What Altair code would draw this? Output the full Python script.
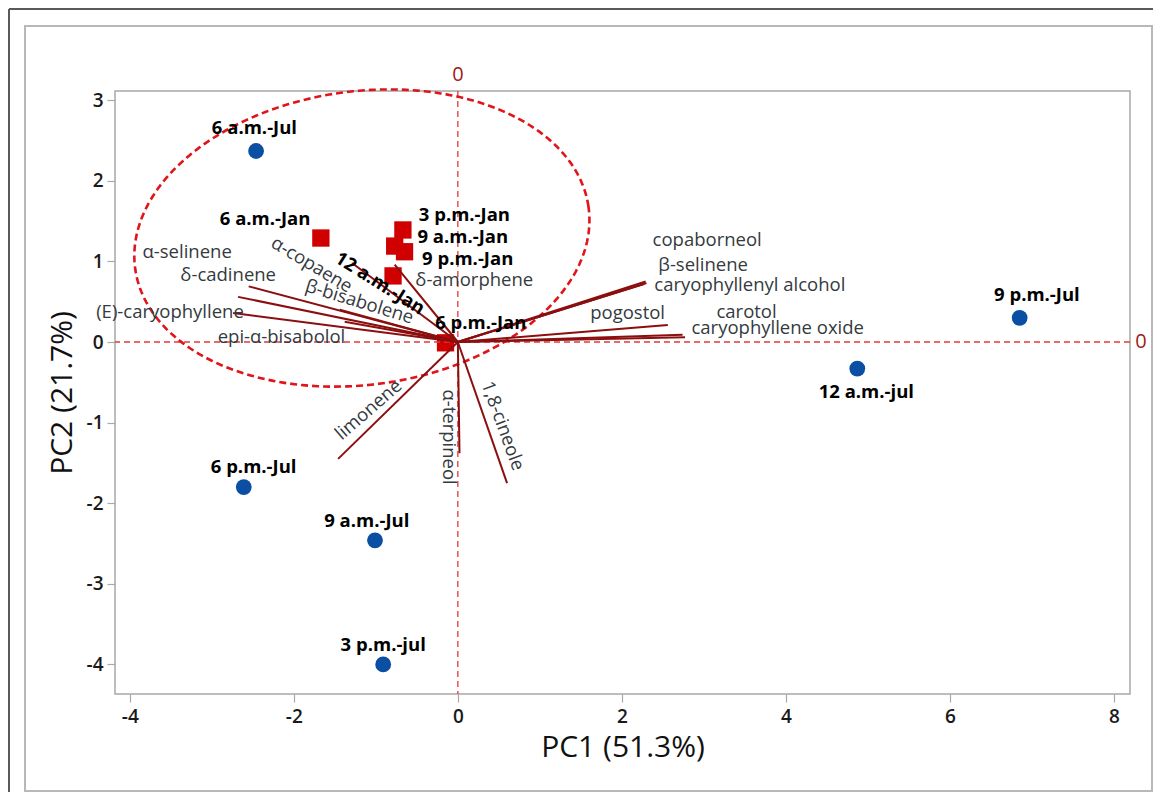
import altair as alt
import pandas as pd
import numpy as np

# ---------------- data ----------------
samples = ["6 a.m.-Jul", "6 p.m.-Jul", "9 a.m.-Jul", "3 p.m.-jul", "12 a.m.-jul", "9 p.m.-Jul",
           "6 a.m.-Jan", "3 p.m.-Jan", "9 a.m.-Jan", "9 p.m.-Jan", "12 a.m.-Jan", "6 p.m.-Jan"]
month = ["Jul"] * 6 + ["Jan"] * 6
pc1 = [-2.46, -2.61, -1.01, -0.91, 4.87, 6.85, -1.67, -0.67, -0.77, -0.65, -0.79, -0.15]
pc2 = [2.37, -1.80, -2.46, -4.00, -0.33, 0.30, 1.29, 1.39, 1.19, 1.12, 0.82, -0.01]
# label anchor (centre of text) in PC units, and text angle
sample_lab_x = [-2.48, -2.49, -1.11, -0.91, 4.98, 7.06, -2.35, 0.08, 0.06, 0.12, -0.95, 0.28]
sample_lab_y = [2.66, -1.55, -2.22, -3.76, -0.62, 0.58, 1.53, 1.57, 1.30, 1.03, 0.73, 0.24]
sample_lab_angle = [0, 0, 0, 0, 0, 0, 0, 0, 0, 0, 32, 0]

variables = ["α-selinene", "δ-cadinene", "(E)-caryophyllene", "epi-α-bisabolol", "α-copaene",
             "β-bisabolene", "δ-amorphene", "limonene", "α-terpineol", "1,8-cineole",
             "pogostol", "copaborneol", "β-selinene", "caryophyllenyl alcohol", "carotol",
             "caryophyllene oxide"]
load1 = [-2.68, -2.55, -2.74, -1.38, -1.29, -1.44, -0.77, -1.46, 0.02, 0.60,
         2.56, 2.29, 2.27, 2.30, 2.74, 2.77]
load2 = [0.56, 0.69, 0.36, 0.25, 0.98, 0.40, 0.96, -1.45, -1.38, -1.75,
         0.21, 0.75, 0.72, 0.73, 0.09, 0.06]
var_lab_x = [-3.30, -2.80, -3.51, -2.15, -1.78, -1.20, 0.20, -1.09, -0.11, 0.55,
             2.07, 3.04, 2.99, 3.56, 3.52, 3.90]
var_lab_y = [1.12, 0.83, 0.37, 0.06, 0.96, 0.50, 0.77, -0.84, -1.18, -1.04,
             0.36, 1.26, 0.96, 0.71, 0.37, 0.17]
var_lab_angle = [0, 0, 0, 0, 31, 17, 0, 319, 90, 70, 0, 0, 0, 0, 0, 0]

# confidence ellipse (centre, semi-axes in PC units, tilt in degrees)
ell_cx, ell_cy = -1.17, 1.29
ell_a, ell_b = 2.79, 1.82
ell_tilt = 8

x_ticks = [-4, -2, 0, 2, 4, 6, 8]
y_ticks = [-4, -3, -2, -1, 0, 1, 2, 3]

# ---------------- build ----------------
W, H = 1015, 603
FONT = "Open Sans"
xs = alt.Scale(domain=[-4.18, 8.195], nice=False, zero=False)
ys = alt.Scale(domain=[-4.367, 3.114], nice=False, zero=False)
xax = alt.Axis(values=x_ticks, labelExpr="'' + datum.value")
yax = alt.Axis(values=y_ticks, labelExpr="'' + datum.value")


def X(f):
    return alt.X(f, scale=xs, title="PC1 (51.3%)", axis=xax)


def Y(f):
    return alt.Y(f, scale=ys, title="PC2 (21.7%)", axis=yax)


pts = pd.DataFrame({"sample": samples, "month": month, "pc1": pc1, "pc2": pc2,
                    "lx": sample_lab_x, "ly": sample_lab_y, "ang": sample_lab_angle})
vec = pd.DataFrame({"var": variables, "x0": 0.0, "y0": 0.0, "l1": load1, "l2": load2,
                    "lx": var_lab_x, "ly": var_lab_y, "ang": var_lab_angle})

t = np.linspace(0, 2 * np.pi, 241)
th = np.deg2rad(ell_tilt)
ex = ell_cx + ell_a * np.cos(t) * np.cos(th) - ell_b * np.sin(t) * np.sin(th)
ey = ell_cy + ell_a * np.cos(t) * np.sin(th) + ell_b * np.sin(t) * np.cos(th)
ell = pd.DataFrame({"x": ex, "y": ey, "o": np.arange(len(t))})

one = pd.DataFrame({"v": [0]})

frame_light = alt.Chart(one).mark_rect(fillOpacity=0, stroke="#b8b8b8", strokeWidth=2).encode(
    x=alt.value(-90), x2=alt.value(1037), y=alt.value(-65), y2=alt.value(700))
frame_dark_top = alt.Chart(one).mark_rule(color="#5a5a5a", strokeWidth=2).encode(
    x=alt.value(-106), x2=alt.value(1060), y=alt.value(-82))
frame_dark_left = alt.Chart(one).mark_rule(color="#5a5a5a", strokeWidth=2).encode(
    x=alt.value(-106), y=alt.value(-82), y2=alt.value(720))

points = alt.Chart(pts).mark_point(filled=True, opacity=1).encode(
    x=X("pc1:Q"), y=Y("pc2:Q"),
    shape=alt.Shape("month:N", scale=alt.Scale(domain=["Jul", "Jan"], range=["circle", "square"]), legend=None),
    color=alt.Color("month:N", scale=alt.Scale(domain=["Jul", "Jan"], range=["#0a4fa3", "#d00000"]), legend=None),
    size=alt.Size("month:N", scale=alt.Scale(domain=["Jul", "Jan"], range=[250, 300]), legend=None),
)

ref_v = alt.Chart(one).mark_rule(color="#e53935", strokeDash=[6, 4], strokeWidth=1.3).encode(
    x=X("v:Q"))
ref_h = alt.Chart(one).mark_rule(color="#e53935", strokeDash=[6, 4], strokeWidth=1.3).encode(
    y=Y("v:Q"))
zero_top = alt.Chart(one).mark_text(font=FONT, fontSize=20, color="#9b1b1b").encode(
    x=X("v:Q"), y=alt.value(-16), text=alt.value("0"))
zero_right = alt.Chart(one).mark_text(font=FONT, fontSize=20, color="#9b1b1b").encode(
    y=Y("v:Q"), x=alt.value(W + 11), text=alt.value("0"))

ellipse = alt.Chart(ell).mark_line(color="#e0151b", strokeDash=[7, 4], strokeWidth=2.6).encode(
    x=X("x:Q"), y=Y("y:Q"), order="o:Q")

vectors = alt.Chart(vec).mark_rule(color="#8b0f0f", strokeWidth=2).encode(
    x=X("x0:Q"), y=Y("y0:Q"), x2="l1:Q", y2="l2:Q")

var_labels = alt.Chart(vec).mark_text(font=FONT, fontSize=18.5, color="#343a40",
                                      align="center", baseline="middle").encode(
    x=X("lx:Q"), y=Y("ly:Q"), text="var:N", angle=alt.Angle("ang:Q", scale=None))

sample_labels = alt.Chart(pts).mark_text(font=FONT, fontSize=18.5, fontWeight="bold", color="#000000",
                                         align="center", baseline="middle").encode(
    x=X("lx:Q"), y=Y("ly:Q"), text="sample:N", angle=alt.Angle("ang:Q", scale=None))

chart = alt.layer(
    points, frame_dark_top, frame_dark_left, frame_light,
    ref_v, ref_h, zero_top, zero_right, ellipse,
    vectors, var_labels, sample_labels
).resolve_scale(shape="independent", color="independent", size="independent").properties(
    width=W, height=H,
    autosize=alt.AutoSizeParams(type="none"),
    padding={"left": 107, "top": 83, "right": 23, "bottom": 98},
    background="white",
).configure_view(
    stroke="#a8a8a8", strokeWidth=1.5
).configure_axis(
    domain=False, grid=False, ticks=True, tickColor="#a8a8a8", tickSize=8, tickWidth=1.2,
    labelFont=FONT, labelFontSize=19, labelFontWeight=600, labelColor="#1a1a1a",
    titleFont=FONT, titleFontSize=30, titleFontWeight="normal", titleColor="#111111",
).configure_axisX(
    labelPadding=5, titlePadding=6
).configure_axisY(
    labelPadding=4, titlePadding=9
)

chart.save("out.html", embed_options={"renderer": "svg", "actions": False})
